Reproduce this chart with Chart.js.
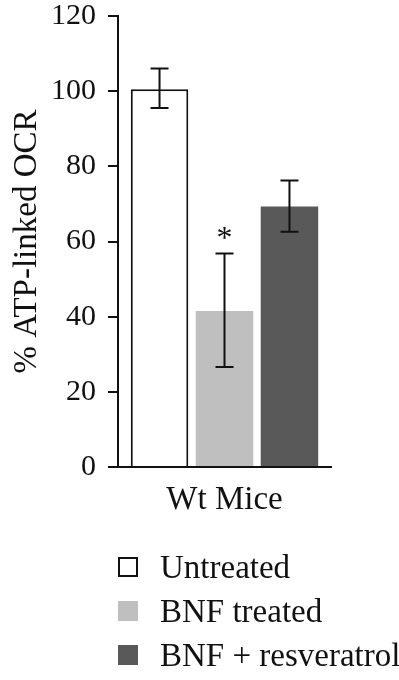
<!DOCTYPE html>
<html>
<head>
<meta charset="utf-8">
<script src="https://cdn.jsdelivr.net/npm/chart.js"></script>
<style>
  html, body { margin: 0; padding: 0; background: #fff; }
  #wrap { position: relative; width: 399px; height: 680px; overflow: hidden; }
  #legend { position: absolute; left: 118px; top: 545px; width: 300px; white-space: nowrap; font-family: 'Liberation Serif', serif; font-size: 33px; color: #111; }
  #legend div { display: flex; align-items: center; height: 44px; }
  #legend span.box { display: inline-block; flex: none; width: 20px; height: 20px; box-sizing: border-box; margin-right: 22px; }
</style>
</head>
<body>
<div id="wrap">
  <canvas id="chart" width="399" height="680"></canvas>
  <div id="legend"></div>
</div>
<script>
// % ATP-linked OCR in Wt mice, mean with error bars
const categories = ['Wt Mice'];
const groups = ['Untreated', 'BNF treated', 'BNF + resveratrol'];
const means = [100.5, 41.5, 69.3];
const errUpper = [106, 56.8, 76.2];
const errLower = [95.5, 26.6, 62.6];
const significant = [false, true, false];
const yTicks = [0, 20, 40, 60, 80, 100, 120];

const fills = ['#ffffff', '#bfbfbf', '#595959'];
const borders = ['#111111', '#bfbfbf', '#595959'];
const serif = 'Liberation Serif';

// draws the error bars and the asterisk above the bars
const errorBars = {
    id: 'errorBars',
    afterDatasetsDraw(chart) {
        const ctx = chart.ctx;
        const y = chart.scales.y;
        ctx.save();
        ctx.strokeStyle = '#111';
        ctx.lineWidth = 2;
        chart.data.datasets.forEach((ds, i) => {
            const bar = chart.getDatasetMeta(i).data[0];
            const top = y.getPixelForValue(errUpper[i]);
            const bottom = y.getPixelForValue(errLower[i]);
            const cap = 9;
            ctx.beginPath();
            ctx.moveTo(bar.x, top);
            ctx.lineTo(bar.x, bottom);
            ctx.moveTo(bar.x - cap, top);
            ctx.lineTo(bar.x + cap, top);
            ctx.moveTo(bar.x - cap, bottom);
            ctx.lineTo(bar.x + cap, bottom);
            ctx.stroke();
            if (significant[i]) {
                ctx.fillStyle = '#111';
                ctx.font = '32px ' + serif;
                ctx.textAlign = 'center';
                ctx.textBaseline = 'middle';
                ctx.fillText('*', bar.x, top - 14);
            }
        });
        ctx.restore();
    }
};

// legend as html, one row per dataset
const htmlLegend = {
    id: 'htmlLegend',
    afterUpdate(chart) {
        const box = document.getElementById('legend');
        box.innerHTML = '';
        chart.data.datasets.forEach(ds => {
            const row = document.createElement('div');
            const sw = document.createElement('span');
            sw.className = 'box';
            sw.style.background = ds.backgroundColor;
            sw.style.border = ds.borderWidth ? '2px solid #111' : 'none';
            row.appendChild(sw);
            row.appendChild(document.createTextNode(ds.label));
            box.appendChild(row);
        });
    }
};

new Chart(document.getElementById('chart'), {
    type: 'bar',
    data: {
        labels: categories,
        datasets: groups.map((g, i) => ({
            label: g,
            data: [means[i]],
            backgroundColor: fills[i],
            borderColor: borders[i],
            borderWidth: i === 0 ? 2 : 0,
            categoryPercentage: 0.915,
            barPercentage: 0.885
        }))
    },
    options: {
        responsive: false,
        animation: false,
        layout: { padding: { top: 16, right: 68, bottom: 153, left: 0 } },
        plugins: {
            legend: { display: false },
            tooltip: { enabled: false }
        },
        scales: {
            x: {
                grid: { display: false, drawTicks: false },
                border: { display: true, color: '#111', width: 2 },
                ticks: { color: '#111', padding: 14, font: { family: serif, size: 33 } },
                afterFit: s => { s.height = 60; }
            },
            y: {
                min: 0,
                max: 120,
                afterBuildTicks: s => { s.ticks = yTicks.map(v => ({ value: v })); },
                grid: { drawOnChartArea: false, drawTicks: true, tickLength: 10, color: '#111', lineWidth: 2 },
                border: { display: true, color: '#111', width: 2 },
                ticks: { color: '#111', padding: 12, font: { family: serif, size: 30 } },
                title: { display: true, text: '% ATP-linked OCR', color: '#111', padding: { top: 8, bottom: 0 }, font: { family: serif, size: 33 } },
                afterFit: s => { s.width = 118; s.paddingTop = 0; s.paddingBottom = 0; }
            }
        }
    },
    plugins: [errorBars, htmlLegend]
});
</script>
</body>
</html>
